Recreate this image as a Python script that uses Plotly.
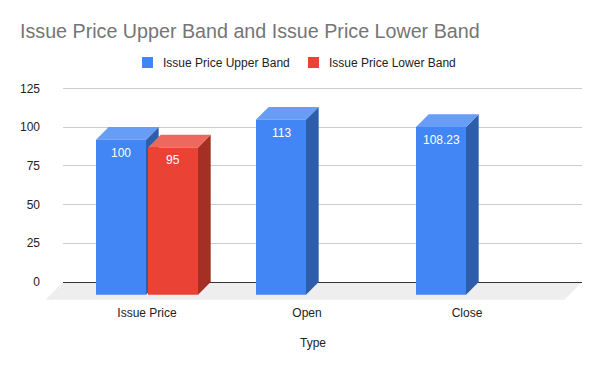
import plotly.graph_objects as go

# ---- data ----
categories = ["Issue Price", "Open", "Close"]
upper_band = [100, 113, 108.23]
lower_band = [95, None, None]
upper_labels = ["100", "113", "108.23"]
lower_labels = ["95", None, None]
y_ticks = [0, 25, 50, 75, 100, 125]
series_names = ["Issue Price Upper Band", "Issue Price Lower Band"]

# ---- styling / geometry ----
FONT = "Arial, Liberation Sans, sans-serif"
W, H = 600, 371
L, R, T, B = 63, 582, 80, 301          # plot area in px
cat_px, first_px = 160.0, 147.0        # category spacing / first centre (px)
y0_px, ppu = 282.0, (282.0 - 88.3) / 125.0
x_range = [(L - first_px) / cat_px, (R - first_px) / cat_px]
y_range = [(y0_px - B) / ppu, (y0_px - T) / ppu]

bar_w = 50 / cat_px
offsets = [-26 / cat_px, 26 / cat_px]
dx = 12.7 / cat_px
dy = 12.7 / ppu

colors = [
    dict(front="#4285f4", top="#689df6", side="#2e5dab"),
    dict(front="#ea4335", top="#ee695d", side="#a32f25"),
]

fig = go.Figure()

annotations = []
shapes = []
series_vals = [upper_band, lower_band]
series_labels = [upper_labels, lower_labels]
for i, cat in enumerate(categories):
    for s, (vals, labs) in enumerate(zip(series_vals, series_labels)):
        v = vals[i]
        if v is None:
            continue
        c = i + offsets[s]
        xl, xr = c - bar_w / 2, c + bar_w / 2
        col = colors[s]
        faces = [
            ([xr, xr + dx, xr + dx, xr, xr], [-dy, 0, v, v - dy, -dy], col["side"]),
            ([xl, xl + dx, xr + dx, xr, xl], [v - dy, v, v, v - dy, v - dy], col["top"]),
            ([xl, xr, xr, xl, xl], [-dy, -dy, v - dy, v - dy, -dy], col["front"]),
        ]
        for fx, fy, fc in faces:
            fig.add_trace(go.Scatter(x=fx, y=fy, fill="toself", fillcolor=fc,
                                     mode="lines", line=dict(width=0, color=fc),
                                     name=series_names[s],
                                     hoverinfo="skip", showlegend=False))
        annotations.append(dict(x=c, y=v - dy, xref="x", yref="y", text=labs[i],
                                showarrow=False, yanchor="middle", yshift=-13,
                                font=dict(family=FONT, size=12, color="#ffffff")))

# helpers: px -> paper coords
def xp(px):
    return (px - L) / (R - L)

def ypp(py):
    return (B - py) / (B - T)

def yp(yv):
    return (yv - y_range[0]) / (y_range[1] - y_range[0])

# floor
floor_dx = 17.5 / (R - L)
floor_dy = 17.7 / ppu
shapes.append(dict(type="path", xref="paper", yref="paper",
                   path=(f"M0,{yp(0)} L1,{yp(0)} L{1 - floor_dx},{yp(-floor_dy)} "
                         f"L{-floor_dx},{yp(-floor_dy)} Z"),
                   fillcolor="#eeeeee", line=dict(width=0), layer="below"))

# legend (top, centred)
legend_x = [142, 308]
for name, c, lx in zip(series_names, colors, legend_x):
    shapes.append(dict(type="rect", xref="paper", yref="paper",
                       x0=xp(lx), x1=xp(lx + 11), y0=ypp(68), y1=ypp(57),
                       fillcolor=c["front"], line=dict(width=0)))
    annotations.append(dict(x=xp(lx + 19), y=ypp(62.5), xref="paper", yref="paper",
                            text=name, showarrow=False, xanchor="left", yanchor="middle",
                            font=dict(family=FONT, size=12, color="#222222")))

# axis title
annotations.append(dict(x=xp(313), y=ypp(343), xref="paper", yref="paper",
                        text="Type", showarrow=False, xanchor="center", yanchor="middle",
                        font=dict(family=FONT, size=12, color="#222222")))

fig.update_layout(
    width=W, height=H,
    margin=dict(l=L, r=W - R, t=T, b=H - B, pad=0, autoexpand=False),
    paper_bgcolor="white", plot_bgcolor="white",
    font=dict(family=FONT, size=12, color="#222222"),
    title=dict(text="Issue Price Upper Band and Issue Price Lower Band",
               x=20 / W, xanchor="left", xref="container",
               y=1 - 31 / H, yanchor="middle", yref="container",
               font=dict(family=FONT, size=19.7, color="#757575")),
    showlegend=False,
    shapes=shapes,
    annotations=annotations,
    xaxis=dict(range=x_range, tickvals=list(range(len(categories))), ticktext=categories,
               showgrid=False, zeroline=False, showline=False, ticks="", automargin=False,
               ticklabelstandoff=3,
               tickfont=dict(family=FONT, size=12, color="#222222"), fixedrange=True),
    yaxis=dict(range=y_range, tickvals=y_ticks, ticktext=[str(t) for t in y_ticks],
               showgrid=True, gridcolor="#cccccc", gridwidth=1,
               zeroline=True, zerolinecolor="#333333", zerolinewidth=1,
               showline=False, ticks="", ticklabelstandoff=22, automargin=False,
               tickfont=dict(family=FONT, size=12, color="#222222"), fixedrange=True),
)

fig.write_html("out.html", config={"displayModeBar": False},
               post_script="document.body.style.margin='0';")
